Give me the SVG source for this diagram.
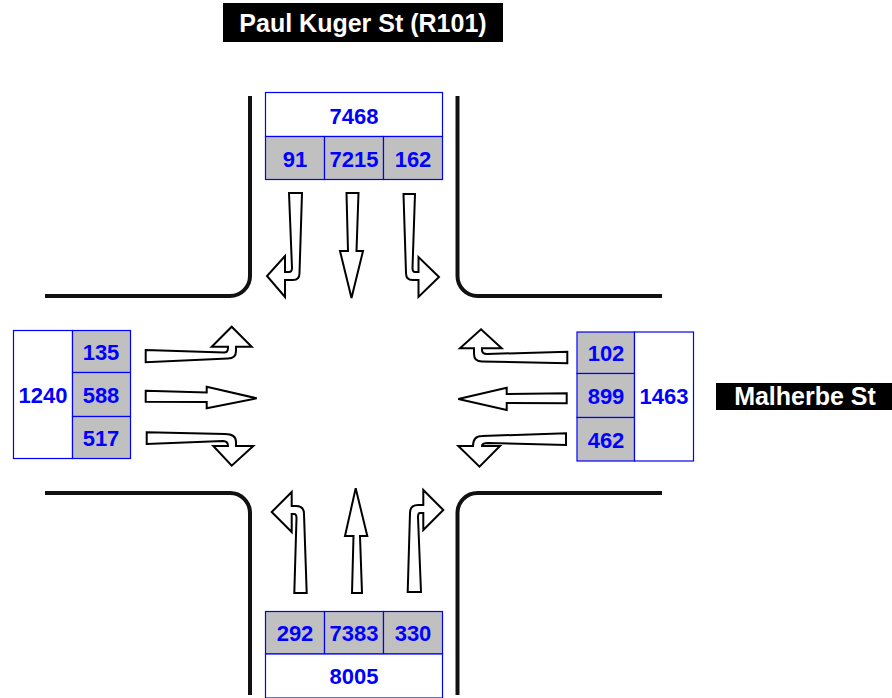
<svg xmlns="http://www.w3.org/2000/svg" width="892" height="698" viewBox="0 0 892 698">
<style>
.road{fill:none;stroke:#111;stroke-width:4}
.arr{fill:#fff;stroke:#000;stroke-width:2;stroke-linejoin:miter}
.cell{fill:#c0c0c0;stroke:#0000ff;stroke-width:1.2}
.tot{fill:#fff;stroke:#0000ff;stroke-width:1.2}
.num{font-family:"Liberation Sans",Arial,sans-serif;font-weight:bold;font-size:22px;fill:#0000ff;text-anchor:middle}
.lbl{font-family:"Liberation Sans",Arial,sans-serif;font-weight:bold;font-size:25px;fill:#fff;text-anchor:middle}
</style>
<rect width="892" height="698" fill="#fff"/>
<g id="roads">
<path class="road" d="M250 96 L250 276 A20 20 0 0 1 230 296 L45 296"/>
<path class="road" d="M457.5 96 L457.5 276 A20 20 0 0 0 477.5 296 L662 296"/>
<path class="road" d="M45 493 L230 493 A20 20 0 0 1 250 513 L250 695"/>
<path class="road" d="M662 493 L477.5 493 A20 20 0 0 0 457.5 513 L457.5 695"/>
</g>
<g id="label-north">
<rect x="223" y="3" width="280" height="39" fill="#000"/>
<text class="lbl" x="363" y="32">Paul Kuger St (R101)</text>
</g>
<g id="label-east">
<rect x="716" y="383" width="176" height="27" fill="#000"/>
<text class="lbl" x="805" y="405">Malherbe St</text>
</g>
<g id="box-north">
<rect class="tot" x="265.5" y="92.5" width="177" height="44"/>
<rect class="cell" x="265.5" y="136.5" width="59" height="43"/>
<rect class="cell" x="324.5" y="136.5" width="59" height="43"/>
<rect class="cell" x="383.5" y="136.5" width="59" height="43"/>
<text class="num" x="354" y="124">7468</text>
<text class="num" x="295" y="167">91</text>
<text class="num" x="354" y="167">7215</text>
<text class="num" x="413" y="167">162</text>
</g>
<g id="box-south">
<rect class="cell" x="265.5" y="611.5" width="59" height="42.5"/>
<rect class="cell" x="324.5" y="611.5" width="59" height="42.5"/>
<rect class="cell" x="383.5" y="611.5" width="59" height="42.5"/>
<rect class="tot" x="265.5" y="654" width="177" height="44"/>
<text class="num" x="295" y="641">292</text>
<text class="num" x="354" y="641">7383</text>
<text class="num" x="413" y="641">330</text>
<text class="num" x="354" y="684">8005</text>
</g>
<g id="box-west">
<rect class="tot" x="13.5" y="330.5" width="59" height="128"/>
<rect class="cell" x="72.5" y="330.5" width="58" height="42"/>
<rect class="cell" x="72.5" y="372.5" width="58" height="44"/>
<rect class="cell" x="72.5" y="416.5" width="58" height="42"/>
<text class="num" x="43" y="403">1240</text>
<text class="num" x="101" y="360">135</text>
<text class="num" x="101" y="403">588</text>
<text class="num" x="101" y="446">517</text>
</g>
<g id="box-east">
<rect class="cell" x="577" y="332" width="57.5" height="41.5"/>
<rect class="cell" x="577" y="373.5" width="57.5" height="44"/>
<rect class="cell" x="577" y="417.5" width="57.5" height="43.5"/>
<rect class="tot" x="634.5" y="332" width="59" height="129"/>
<text class="num" x="606" y="361">102</text>
<text class="num" x="606" y="404">899</text>
<text class="num" x="606" y="448">462</text>
<text class="num" x="664" y="404">1463</text>
</g>
<g id="connectors">
<path class="arr" d="M289 193 L302 193 L299.5 273 Q299.5 280 293 280 L285 280 L285 297 L267 276 L285 256 L285 272 L289 272 Q292 272 292 268 Z"/>
<path class="arr" d="M346.5 193 L358.5 193 L356.5 251 L363 251 L351.5 298 L340 251 L348 251 Z"/>
<path class="arr" d="M415 194 L403.5 194 L406 273 Q406 280 412.5 280 L418.5 280 L418.5 297 L439 277 L418.5 257 L418.5 272 L415 272 Q412.5 272 412.5 268 Z"/>
<path class="arr" d="M294.3 593 L306.7 593 L304 514 Q304 506 296 506 L291.7 506 L291.7 492 L271.7 512 L291.7 532 L291.7 514 L294 514 Q296.5 514 296.5 518 Z"/>
<path class="arr" d="M352 593 L362 593 L360 536 L367.3 536 L355.7 488.3 L345 536 L353.5 536 Z"/>
<path class="arr" d="M421 592 L407.7 592 L410 513 Q410 505 418 505 L423.3 505 L423.3 490 L443.3 510 L423.3 530 L423.3 513 L420 513 Q418 513 418 517 Z"/>
<path class="arr" d="M145.7 350 L224 352.5 Q228 352.5 228 348 L228 346.7 L211.7 346.7 L231.7 326.7 L251.7 346.7 L236 346.7 L236 351 Q236 358.5 228 358.5 L145.7 362.3 Z"/>
<path class="arr" d="M145.7 390.7 L206.7 392.5 L206.7 386.7 L256.7 398.3 L206.7 408.3 L206.7 402 L145.7 401.7 Z"/>
<path class="arr" d="M146.7 432.3 L225 434 Q236 434 236 442 L236 446 L253.3 446 L231.7 465.7 L213.3 446 L228 446 Q228 441 223 441 L146.7 444 Z"/>
<path class="arr" d="M567.3 351.7 L567.3 363.3 L482 361.5 Q474 361.5 474 354 L474 348.3 L460 348.3 L481 329.3 L501.7 348.3 L482 348.3 L482 350 Q482 354 487 354 Z"/>
<path class="arr" d="M566.7 393.3 L566.7 403.3 L506.7 403 L506.7 410 L458.3 399 L506.7 387.7 L506.7 394 Z"/>
<path class="arr" d="M566 433.3 L566 445 L488 443 Q482 443 482 446 L500 446 L479.5 466.7 L458.3 446 L473 446 Q473 436 482 436 Z"/>
</g>
</svg>
